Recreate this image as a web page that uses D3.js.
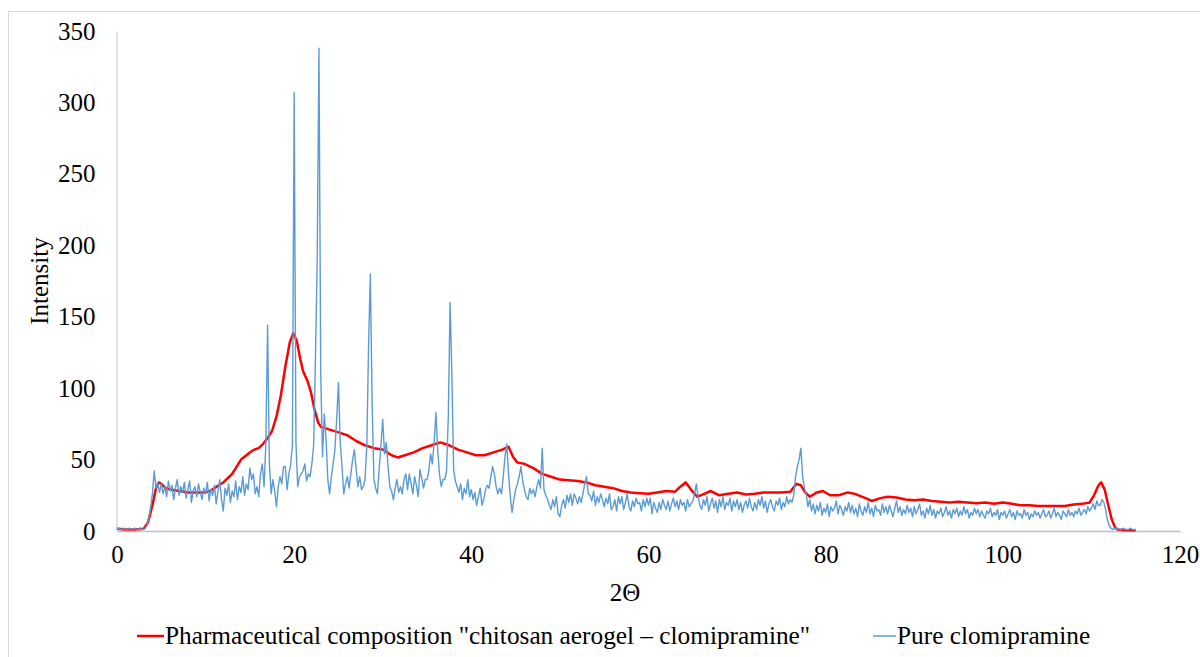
<!DOCTYPE html>
<html>
<head>
<meta charset="utf-8">
<script src="https://cdn.jsdelivr.net/npm/d3@7/dist/d3.min.js"></script>
<style>
  html, body { margin: 0; padding: 0; background: #fff; }
  svg { display: block; }
  svg text { font-family: 'Liberation Serif', 'DejaVu Serif', serif !important; fill: #000; }
</style>
</head>
<body>
<svg id="chart" width="1200" height="657"></svg>
<script>
// ---- Data ----
const xTicks = [0, 20, 40, 60, 80, 100, 120];
const yTicks = [0, 50, 100, 150, 200, 250, 300, 350];
const seriesNames = ['Pharmaceutical composition "chitosan aerogel \u2013 clomipramine"', 'Pure clomipramine'];

// Red series: 2Θ and intensity
const redAngle = [0,1,2,3,3.5,4,4.4,4.7,5,5.5,6,7,8,9,10,10.5,11,12,13,14,15,15.5,16,16.5,17,17.5,18,18.5,19,19.5,19.9,20.3,20.7,21,21.5,21.9,22.3,22.7,23,23.5,24,25,26,27,28,29,30,31,31.7,32.5,33.5,34.5,35.5,36.5,37.5,38.5,39.5,40.5,41.5,42.5,43.5,44.2,44.7,45.2,46,47,48,49,50,51,52,53,54,55,56,57,58,59,60,61,62,63,63.6,64.2,64.8,65.5,66.3,67,68,69,70,71,72,73,74,75,76,76.7,77.2,77.7,78.2,79,79.7,80.5,81.5,82.5,83.3,84.5,85.2,86.2,87,88,89,90,91,92,93,94,95,96,97,98,99,100,101,102,103,104,105,106,107,108,109,109.8,110.3,110.8,111.1,111.5,111.9,112.3,112.7,113,114,115];
const redIntensity = [1.5,1,1,1.5,6,18,30,34,33,30,29,28,27,27,27,28,30,34,40,50,55,57,58,61,65,70,80,95,115,132,138.5,133,120,112,105,97,85,76,73,72,71,69,67,63,60,58,57,53,51.5,53,55,58,60,62,60,57,55,53,53,55,57,59,52,48,47,44,40,38,36,35.5,35,34,32,31,30,28,27,26.5,26,27,28,27.5,31,34,29,24,26,28,25,26,27,25.5,26,27,27,27,27.5,33,32,27,24,27,28,25,25,27,26,23,21,23,24,23.5,22,21.5,22,21,20.5,20,20.5,20,19.5,20,19,20,19,18,18,17.5,17.5,17.5,17.5,18.5,19,20,25,32,34,29,18,8,2,1,0.5,0.5];

// Blue series: intensity per degree, 5 readings per degree (every 0.2°)
const blueByDegree = [
  [1,2,1,1,2],[1,1,2,1,1],[2,1,1,2,1],[1,2,4,9,17],[26,42,30,34,27],
  [33,26,31,24,35],[28,32,22,30,36],[25,31,27,34,23],[29,35,20,28,31],[24,33,27,22,30],
  [26,34,21,29,25],[32,19,28,36,22],[14,30,25,33,20],[28,24,35,22,31],[27,38,25,33,29],
  [44,36,40,26,31],[24,40,47,31,60],[144,48,26,36,28],[17,31,38,33,45],[45,29,40,46,60],
  [307,62,31,38,40],[42,47,35,40,38],[47,60,120,190,338],[110,52,82,64,36],[26,38,47,57,78],
  [104,62,45,26,33],[38,30,40,50,57],[43,31,38,29,31],[36,60,130,180,90],[36,30,26,44,60],
  [78,54,62,45,31],[28,22,30,36,27],[31,26,36,40,29],[40,33,26,38,32],[24,43,37,30,36],
  [36,42,54,47,62],[83,57,40,31,36],[36,42,80,160,110],[43,35,31,27,33],[22,30,26,36,24],
  [29,22,27,18,24],[30,18,22,29,32],[30,38,45,40,31],[26,30,26,38,52],[61,40,24,13,22],
  [29,33,38,45,35],[29,24,22,30,26],[29,24,31,36,30],[58,29,25,22,18],[15,22,17,24,12],
  [10,18,22,16,25],[20,26,18,26,23],[19,24,20,26,33],[38,26,25,21,28],[18,24,20,26,22],
  [17,23,19,26,15],[17,22,14,24,19],[24,15,20,26,17],[14,21,17,23,19],[20,14,22,17,23],
  [18,23,12,20,16],[13,20,15,22,18],[15,21,14,19,23],[17,21,15,22,18],[20,14,22,17,19],
  [21,26,33,24,18],[15,22,18,24,14],[19,23,16,21,13],[22,17,24,15,20],[18,23,14,21,17],
  [22,15,20,13,18],[21,16,23,17,14],[20,15,22,18,24],[16,21,13,19,22],[17,14,21,18,23],
  [15,20,17,24,19],[22,20,25,38,45],[50,58,38,30,26],[17,22,14,19,12],[18,14,20,11,16],
  [13,19,10,17,14],[16,21,12,18,15],[11,17,14,20,13],[18,12,16,10,19],[14,11,17,13,20],
  [12,16,10,18,14],[15,11,19,13,17],[12,18,14,10,16],[21,13,17,11,15],[12,18,13,16,10],
  [17,12,15,19,11],[14,9,16,12,18],[11,15,9,14,12],[16,10,13,17,11],[14,9,15,12,16],
  [10,14,11,17,12],[15,9,13,11,16],[12,15,10,14,11],[9,14,12,16,10],[13,11,15,8,13],
  [11,14,9,12,15],[10,13,8,14,11],[12,9,15,11,13],[8,12,10,14,11],[13,9,12,15,10],
  [11,14,9,12,16],[10,13,11,8,14],[12,10,15,11,13],[10,14,12,16,11],[13,15,12,17,14],
  [16,19,15,21,18],[18,22,20,15,8],[4,2,1,2,1],[2,1,1,2,1],[1,1,2,1,1],
  [1]
];

// ---- Build point lists ----
const redPoints = redAngle.map((a, i) => [a, redIntensity[i]]);
const bluePoints = [];
blueByDegree.forEach((row, d) => row.forEach((v, j) => bluePoints.push([d + j * 0.2, v])));

// ---- Chart ----
const FONT = "'Liberation Serif', 'DejaVu Serif', serif";
const svg = d3.select('#chart');
const x = d3.scaleLinear().domain([0, 120]).range([117, 1180]);
const y = d3.scaleLinear().domain([0, 350]).range([531, 31]);

// outer frame (only top/left visible in the crop)
svg.append('rect').attr('x', 8.5).attr('y', 11.5).attr('width', 1300).attr('height', 800)
  .attr('fill', 'none').attr('stroke', '#d9d9d9').attr('stroke-width', 1);

// y axis
const yAxis = d3.axisLeft(y).tickValues(yTicks).tickSize(0).tickPadding(21);
const gy = svg.append('g').attr('transform', 'translate(116.5,0)').call(yAxis);
gy.attr('font-family', FONT).attr('font-size', 25);
gy.select('.domain').attr('stroke', '#d9d9d9').attr('stroke-width', 1.5);
gy.selectAll('text').attr('fill', '#000');

// x axis
const xAxis = d3.axisBottom(x).tickValues(xTicks).tickSize(0).tickPadding(14);
const gx = svg.append('g').attr('transform', 'translate(0,531)').call(xAxis);
gx.attr('font-family', FONT).attr('font-size', 25);
gx.select('.domain').attr('stroke', '#bfbfbf').attr('stroke-width', 1.5);
gx.selectAll('text').attr('fill', '#000');

// lines
const line = d3.line().x(d => x(d[0])).y(d => y(d[1]));
svg.append('path').datum(redPoints).attr('d', line)
  .attr('fill', 'none').attr('stroke', '#ff0000').attr('stroke-width', 2.5).attr('stroke-linejoin', 'round');
svg.append('path').datum(bluePoints).attr('d', line)
  .attr('fill', 'none').attr('stroke', '#5b9bd5').attr('stroke-width', 1.4).attr('stroke-linejoin', 'round');

// axis titles
svg.append('text').attr('x', 625).attr('y', 601).attr('text-anchor', 'middle')
  .attr('font-family', FONT).attr('font-size', 25).text('2\u0398');
svg.append('text').attr('transform', 'translate(48,281) rotate(-90)').attr('text-anchor', 'middle')
  .attr('font-family', FONT).attr('font-size', 25).text('Intensity');

// legend
const legendY = 636;
const legend = [
  { x1: 137, x2: 164, color: '#ff0000', w: 2.5, tx: 165, label: seriesNames[0] },
  { x1: 873, x2: 896, color: '#5b9bd5', w: 1.5, tx: 897, label: seriesNames[1] }
];
legend.forEach(l => {
  svg.append('line').attr('x1', l.x1).attr('x2', l.x2).attr('y1', legendY).attr('y2', legendY)
    .attr('stroke', l.color).attr('stroke-width', l.w);
  svg.append('text').attr('x', l.tx).attr('y', legendY + 8)
    .attr('font-family', FONT).attr('font-size', 25.3).text(l.label);
});
</script>
</body>
</html>
